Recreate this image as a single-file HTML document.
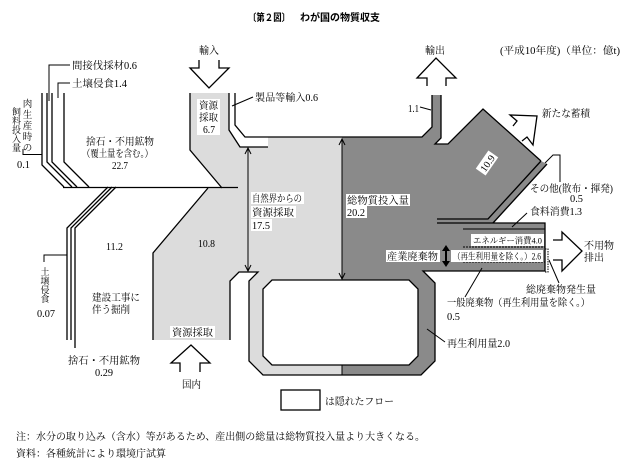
<!DOCTYPE html>
<html><head><meta charset="utf-8"><style>
html,body{margin:0;padding:0;background:#fff;}
svg{display:block;}
.t{font-family:"Liberation Serif","Noto Serif CJK SC",serif;font-size:10px;fill:#000;}
.s{font-family:"Liberation Sans","Noto Sans CJK JP",sans-serif;font-size:10px;font-weight:bold;fill:#000;}
.ln{fill:none;stroke:#000;stroke-width:1.3;}
.th{fill:none;stroke:#000;stroke-width:1;}
</style></head><body>
<svg width="631" height="467" viewBox="0 0 631 467" xmlns="http://www.w3.org/2000/svg">
<!-- fills -->
<path d="M190,93 L235,93 L235,125 L245,137 L342,137 L342,375 L263,375 L249,361 L249,281 L258,272 L239,272 L230,281 L230,340 L153,340 L153,253 L208,188 L222,188 L190,150 Z" fill="#dcdcdc"/>
<path d="M342,137 L422,137 L432,127 L432,95 L441,95 L441,138 L435,144 L448,144 L483,109 L541,161 L547,164 L493,223 L545,223 L545,271 L423,271 L435,283 L435,361 L421,375 L342,375 Z" fill="#8a8a8a"/>
<path d="M229,93 H235 V125 L245,137 H268 V147 H240 L229,130 Z" fill="#fff"/>
<path d="M272,280 H409 L418,289 V356 L409,365 H272 L263,356 V289 Z" fill="#fff" stroke="#000" stroke-width="1.3"/>

<!-- outlines -->
<path class="ln" d="M190,93 V150 L222,188"/>
<path class="ln" d="M229,93 V130 L240,147 H268"/>
<path class="ln" d="M235,93 V125 L245,137 H422 L432,127 V95"/>
<path class="ln" d="M441,95 V138 L435,144 H448 L483,109 L541,161"/>
<path class="ln" d="M541,161 L488,219 H437"/>
<path class="ln" d="M547,164 L493,223"/>
<path class="ln" d="M437,223 H545 V271 H423 L435,283 V361 L421,375 H263 L249,361 V281 L258,272 H239 L230,281 V340"/>
<path class="ln" d="M208,188 L153,253 V340"/>
<path class="ln" d="M63,187.5 H238"/>
<path class="th" d="M463,229 H545"/>
<path class="th" d="M463,247 H545" stroke-dasharray="2,1"/>
<path class="th" d="M463,262 H545" stroke-dasharray="2,1"/>
<path class="th" d="M342,365 V375" stroke-width="0.8"/>

<!-- left lines -->
<path class="ln" d="M42,93 V165 L64,187"/>
<path class="ln" d="M47,93 V162 L72,187"/>
<path class="ln" d="M52,93 V162 L77,187"/>
<path class="ln" d="M64,93 V162 L89,187"/>
<path class="ln" d="M108,187 L67,228 V340"/>
<path class="ln" d="M112,187 L71,228 V340"/>
<path class="ln" d="M116,187 L75,228 V348"/>
<!-- leaders -->
<path class="th" d="M49,101 V65 H70"/>
<path class="th" d="M58,98 V83 H70"/>
<path class="th" d="M23,149 V154.5 H42"/>
<path class="th" d="M67,255 H44 V262"/>
<path class="th" d="M232,106 L253,97"/>
<path class="th" d="M420,107 L431,110"/>
<path class="th" d="M545,163 L553,155 H560 V182"/>
<path class="th" d="M527,213 L512,227"/>
<path class="th" d="M482,268 L465,297"/>
<path class="th" d="M427,329 L445,342"/>
<path class="th" d="M545,249 H548 V272 H545" stroke-dasharray="1.5,1"/>
<path class="th" d="M549,260 L559,283"/>

<!-- double arrows -->
<path class="th" d="M248,148 V271"/>
<path class="th" d="M245,154 L248,148 L251,154 M245,265 L248,271 L251,265"/>
<path class="th" d="M342,139 V279"/>
<path class="th" d="M339,145 L342,139 L345,145 M339,273 L342,279 L345,273"/>
<path d="M446,250 V262" stroke="#000" stroke-width="2"/>
<path d="M442,251 L446,245 L450,251 Z M442,261 L446,267 L450,261 Z" fill="#000"/>

<!-- big arrows -->
<path class="ln" d="M199,60 V68 H190 L209,88 L229,68 H219 V60"/>
<path class="ln" d="M427,86 V78 H417 L436,58 L456,78 H446 V86"/>
<path class="ln" d="M180,372 V363 H171 L191,345 L210,363 H200 V372"/>
<path class="ln" d="M553,240 H562 V232 L582,251 L562,271 V260 H553"/>
<path class="ln" d="M513,126 L517,121 L510,115 L537,116 L533,145 L527,137 L522,141"/>

<!-- legend -->
<rect x="281" y="390" width="39" height="20" fill="#fff" stroke="#000" stroke-width="1.3"/>

<!-- white text backgrounds -->
<rect x="197" y="99" width="23" height="36" fill="#fff"/>
<rect x="251" y="192" width="53" height="12" fill="#fff"/>
<rect x="251" y="206" width="45" height="12" fill="#fff"/>
<rect x="251" y="219" width="21" height="12" fill="#fff"/>
<rect x="346" y="194" width="64" height="12" fill="#fff"/>
<rect x="346" y="206" width="21" height="12" fill="#fff"/>
<rect x="471" y="234" width="73" height="12" fill="#fff"/>
<rect x="386" y="250" width="54" height="12" fill="#fff"/>
<rect x="451" y="250" width="92" height="12" fill="#fff"/>
<rect x="170" y="326" width="45" height="12" fill="#fff"/>
<g transform="translate(487,163) rotate(-55)">
<rect x="-11" y="-6" width="22" height="12" fill="#fff"/>
<text class="t" x="-9" y="4" textLength="18" lengthAdjust="spacingAndGlyphs">10.9</text>
</g>

<!-- texts -->
<text class="s" x="248" y="21" textLength="42" lengthAdjust="spacingAndGlyphs">〔第２図〕</text>
<text class="s" x="300" y="21" textLength="80" lengthAdjust="spacingAndGlyphs">わが国の物質収支</text>
<text class="t" x="199" y="54" textLength="20" lengthAdjust="spacingAndGlyphs">輸入</text>
<text class="t" x="425" y="54" textLength="20" lengthAdjust="spacingAndGlyphs">輸出</text>
<text class="t" x="500" y="54" textLength="120" lengthAdjust="spacingAndGlyphs">(平成10年度)（単位：億t)</text>
<text class="t" x="72" y="69" textLength="65" lengthAdjust="spacingAndGlyphs">間接伐採材0.6</text>
<text class="t" x="72" y="87" textLength="55" lengthAdjust="spacingAndGlyphs">土壌侵食1.4</text>
<text class="t" x="255" y="101" textLength="63" lengthAdjust="spacingAndGlyphs">製品等輸入0.6</text>
<text class="t" x="408" y="112" textLength="11" lengthAdjust="spacingAndGlyphs">1.1</text>
<text class="t" x="542" y="117" textLength="48" lengthAdjust="spacingAndGlyphs">新たな蓄積</text>

<g class="t" style="font-size:9.5px" text-anchor="middle">
<text x="27.5" y="107">肉</text><text x="27.5" y="118">生</text><text x="27.5" y="129">産</text><text x="27.5" y="140">時</text><text x="27.5" y="151">の</text>
</g>
<g class="t" style="font-size:9px" text-anchor="middle">
<text x="16.5" y="115">飼</text><text x="16.5" y="124">料</text><text x="16.5" y="133">投</text><text x="16.5" y="142">入</text><text x="16.5" y="151">量</text>
</g>
<text class="t" x="17" y="168" textLength="13" lengthAdjust="spacingAndGlyphs">0.1</text>
<text class="t" x="86" y="145" textLength="68" lengthAdjust="spacingAndGlyphs">捨石・不用鉱物</text>
<text class="t" x="82" y="157" textLength="71" lengthAdjust="spacingAndGlyphs">（覆土量を含む。）</text>
<text class="t" x="112" y="169" textLength="16" lengthAdjust="spacingAndGlyphs">22.7</text>

<text class="t" x="199" y="109" textLength="19" lengthAdjust="spacingAndGlyphs">資源</text>
<text class="t" x="199" y="121" textLength="19" lengthAdjust="spacingAndGlyphs">採取</text>
<text class="t" x="203" y="133" textLength="12" lengthAdjust="spacingAndGlyphs">6.7</text>

<text class="t" x="252" y="202" textLength="50" lengthAdjust="spacingAndGlyphs">自然界からの</text>
<text class="t" x="252" y="216" textLength="42" lengthAdjust="spacingAndGlyphs">資源採取</text>
<text class="t" x="252" y="229" textLength="18" lengthAdjust="spacingAndGlyphs">17.5</text>
<text class="t" x="347" y="204" textLength="62" lengthAdjust="spacingAndGlyphs">総物質投入量</text>
<text class="t" x="347" y="216" textLength="18" lengthAdjust="spacingAndGlyphs">20.2</text>
<text class="t" x="198" y="247" textLength="17" lengthAdjust="spacingAndGlyphs">10.8</text>
<text class="t" x="106" y="250" textLength="17" lengthAdjust="spacingAndGlyphs">11.2</text>

<text class="t" x="530" y="192" textLength="83" lengthAdjust="spacingAndGlyphs">その他(散布・揮発)</text>
<text class="t" x="570" y="202" textLength="13" lengthAdjust="spacingAndGlyphs">0.5</text>
<text class="t" x="530" y="215" textLength="52" lengthAdjust="spacingAndGlyphs">食料消費1.3</text>
<text class="t" x="473" y="243.5" style="font-size:8.5px" textLength="69" lengthAdjust="spacingAndGlyphs">エネルギー消費4.0</text>
<text class="t" x="387" y="260" textLength="51" lengthAdjust="spacingAndGlyphs">産業廃棄物</text>
<text class="t" x="453" y="259.5" style="font-size:9px" textLength="88" lengthAdjust="spacingAndGlyphs">（再生利用量を除く。）2.6</text>
<text class="t" x="584" y="249" textLength="30" lengthAdjust="spacingAndGlyphs">不用物</text>
<text class="t" x="584" y="261" textLength="20" lengthAdjust="spacingAndGlyphs">排出</text>
<text class="t" x="526" y="293" textLength="70" lengthAdjust="spacingAndGlyphs">総廃棄物発生量</text>
<text class="t" x="447" y="306" textLength="143" lengthAdjust="spacingAndGlyphs">一般廃棄物（再生利用量を除く。）</text>
<text class="t" x="447" y="320" textLength="13" lengthAdjust="spacingAndGlyphs">0.5</text>
<text class="t" x="447" y="347" textLength="63" lengthAdjust="spacingAndGlyphs">再生利用量2.0</text>

<g class="t" style="font-size:9px" text-anchor="middle">
<text x="45" y="275">土</text><text x="45" y="284">壌</text><text x="45" y="293">侵</text><text x="45" y="302">食</text>
</g>
<text class="t" x="37" y="317" textLength="18" lengthAdjust="spacingAndGlyphs">0.07</text>
<text class="t" x="92" y="301" textLength="48" lengthAdjust="spacingAndGlyphs">建設工事に</text>
<text class="t" x="92" y="313" textLength="38" lengthAdjust="spacingAndGlyphs">伴う掘削</text>
<text class="t" x="172" y="336" textLength="41" lengthAdjust="spacingAndGlyphs">資源採取</text>
<text class="t" x="68" y="364" textLength="72" lengthAdjust="spacingAndGlyphs">捨石・不用鉱物</text>
<text class="t" x="95" y="376" textLength="18" lengthAdjust="spacingAndGlyphs">0.29</text>
<text class="t" x="182" y="388" textLength="19" lengthAdjust="spacingAndGlyphs">国内</text>

<text class="t" x="325" y="405" textLength="69" lengthAdjust="spacingAndGlyphs">は隠れたフロー</text>
<text class="t" x="16" y="440" textLength="409" lengthAdjust="spacingAndGlyphs">注：水分の取り込み（含水）等があるため、産出側の総量は総物質投入量より大きくなる。</text>
<text class="t" x="16" y="457" textLength="150" lengthAdjust="spacingAndGlyphs">資料：各種統計により環境庁試算</text>
</svg>
</body></html>
